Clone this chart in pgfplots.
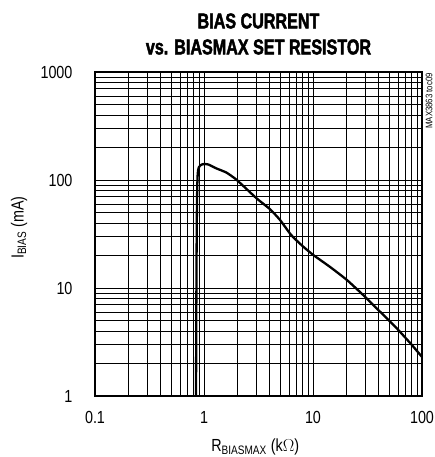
\documentclass[border=0pt]{standalone}
\usepackage{fontspec}
\setmainfont{Liberation Sans}[FakeStretch=0.82]
\newfontfamily\titlefont{Liberation Sans Bold}[FakeStretch=0.75, FakeBold=2]
\usepackage{pgfplots}
\pgfplotsset{compat=1.18}
\begin{document}
\begin{tikzpicture}[x=1pt,y=1pt]
\begin{axis}[
  scale only axis,
  width=327pt, height=324pt,
  at={(0pt,0pt)}, anchor=south west,
  xmode=log, ymode=log,
  xmin=0.1, xmax=100, ymin=1, ymax=1000,
  xtick={0.1,1,10,100}, xticklabels={0.1,1,10,100},
  ytick={1,10,100,1000}, yticklabels={1,10,100,1000},
  grid=both,
  major grid style={black, line width=0.8pt},
  minor grid style={black, line width=0.6pt},
  major tick length=0pt, minor tick length=0pt,
  axis line style={line width=2.2pt},
  tick label style={font=\fontsize{17.5}{17.5}\selectfont},
  xticklabel style={yshift=-12pt},
  yticklabel style={xshift=-19pt},
  clip=false,
]
\addplot[black, line width=2.3pt, smooth, tension=0.3] coordinates {
(0.845,1) (0.848,3) (0.852,10) (0.857,30) (0.862,60) (0.868,90) (0.875,112)
(0.885,125) (0.9,132) (0.93,137) (0.97,140) (1.02,140.5) (1.1,139)
(1.3,128) (1.61,117) (2.0,100) (3.04,67.6) (4.04,53.6) (4.98,42.7)
(6.0,33) (6.59,29.5) (8.15,24.1) (10.07,20.2) (14.3,15.7) (20.4,11.9) (28.9,8.6)
(41.2,6.04) (58.6,4.24) (80,3.0) (100,2.3)
};
\node[rotate=90, anchor=center, font=\fontsize{17.5}{17.5}\selectfont] at ([xshift=-76pt]rel axis cs:0,0.52) {I\textsubscript{BIAS} (mA)};
\node[anchor=center, font=\fontsize{17.5}{17.5}\selectfont] at ([yshift=-51pt]rel axis cs:0.49,0) {R\textsubscript{BIASMAX} (k$\Omega$)};
\node[anchor=center, font=\fontsize{21.5}{21.5}\titlefont] at ([yshift=51pt]rel axis cs:0.5,1) {BIAS CURRENT};
\node[anchor=center, font=\fontsize{21.5}{21.5}\titlefont] at ([yshift=25pt]rel axis cs:0.5,1) {vs. BIASMAX SET RESISTOR};
\node[rotate=90, anchor=east, font=\fontsize{9.5}{9.5}\selectfont, inner sep=0pt] at ([xshift=7pt, yshift=-1pt]rel axis cs:1,1) {MAX3863 toc09};
\end{axis}
\pgfresetboundingbox
\useasboundingbox (-95pt,-61pt) rectangle (339pt,396pt);
\end{tikzpicture}
\end{document}
